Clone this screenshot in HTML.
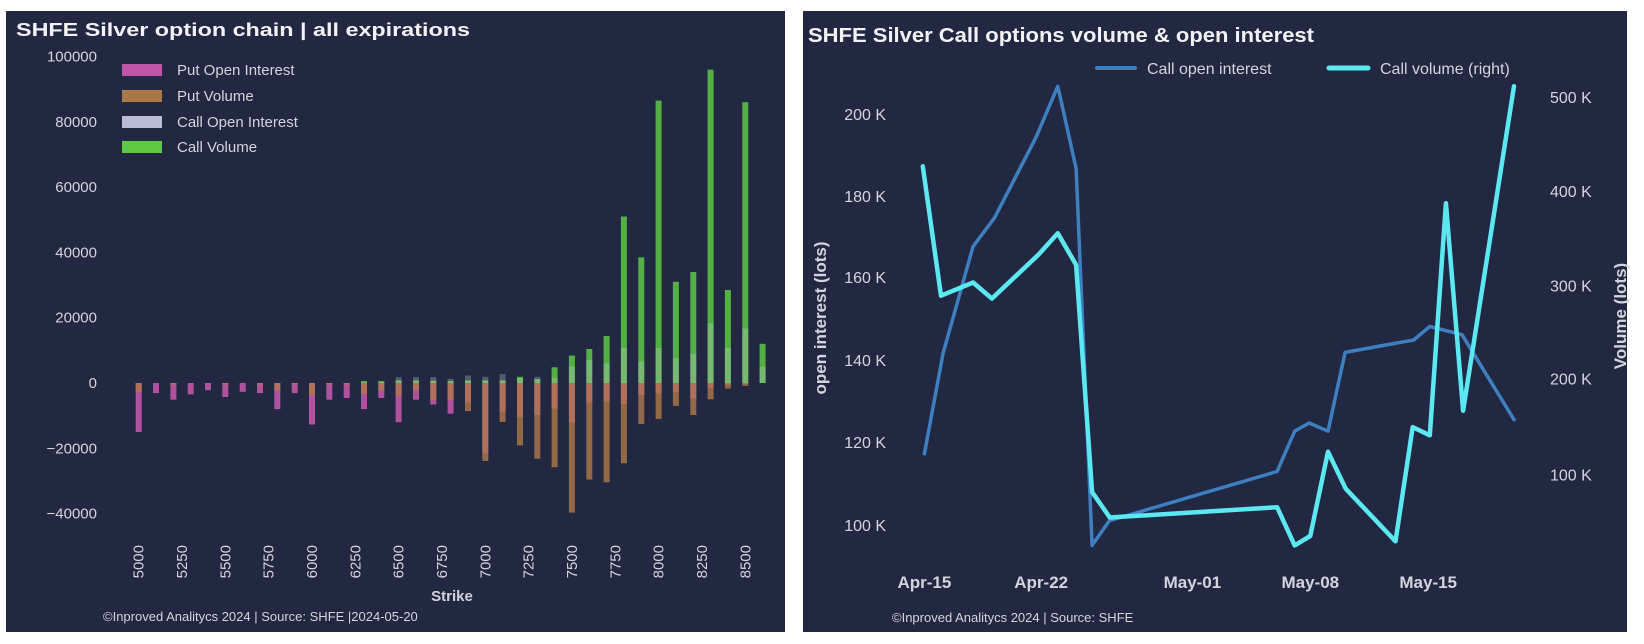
<!DOCTYPE html>
<html><head><meta charset="utf-8"><style>
html,body{margin:0;padding:0;background:#fff;}
svg{display:block;}
text{font-family:"Liberation Sans",sans-serif;}
</style></head><body>
<svg id="s" width="1644" height="644" xmlns="http://www.w3.org/2000/svg">
<rect x="0" y="0" width="1644" height="644" fill="#ffffff"/>
<rect x="6" y="11" width="779" height="621" fill="#222842"/>
<rect x="803" y="11" width="824" height="621" fill="#222842"/>
<text x="16" y="36" font-size="18" font-weight="bold" fill="#f2f2f4" textLength="454" lengthAdjust="spacingAndGlyphs">SHFE Silver option chain | all expirations</text>
<g id="lb"></g>
<g font-size="15" fill="#d4d4dc">
<rect x="122" y="64" width="40" height="12" fill="#c055a8"/><text x="177" y="75">Put Open Interest</text>
<rect x="122" y="90" width="40" height="12" fill="#a87848"/><text x="177" y="101">Put Volume</text>
<rect x="122" y="116" width="40" height="12" fill="#b8bcd4"/><text x="177" y="127">Call Open Interest</text>
<rect x="122" y="141" width="40" height="12" fill="#5cc844"/><text x="177" y="152">Call Volume</text>
</g>
<text x="452" y="601" font-size="15" font-weight="bold" fill="#d4d4dc" text-anchor="middle">Strike</text>
<text x="103" y="621" font-size="13" fill="#d4d4dc">©Inproved Analitycs 2024 | Source: SHFE |2024-05-20</text>

<text x="808" y="42" font-size="20" font-weight="bold" fill="#f2f2f4" textLength="506" lengthAdjust="spacingAndGlyphs">SHFE Silver Call options volume &amp; open interest</text>
<g id="rb"></g>
<line x1="1097" y1="68" x2="1135" y2="68" stroke="#3d7fc0" stroke-width="4" stroke-linecap="round"/>
<text x="1147" y="74" font-size="16" fill="#d4d4dc">Call open interest</text>
<line x1="1329" y1="68" x2="1368" y2="68" stroke="#5ce8f0" stroke-width="5" stroke-linecap="round"/>
<text x="1380" y="74" font-size="16" fill="#d4d4dc">Call volume (right)</text>
<text x="892" y="622" font-size="13" fill="#d4d4dc">©Inproved Analitycs 2024 | Source: SHFE</text>
<text transform="translate(826,318) rotate(-90)" font-size="17" font-weight="bold" fill="#d4d4dc" text-anchor="middle">open interest (lots)</text>
<text transform="translate(1626,316) rotate(-90)" font-size="17" font-weight="bold" fill="#d4d4dc" text-anchor="middle">Volume (lots)</text>
</svg>
<script>
var NS="http://www.w3.org/2000/svg";
function el(p,t,a,txt){var e=document.createElementNS(NS,t);for(var k in a)e.setAttribute(k,a[k]);if(txt!==undefined)e.textContent=txt;p.appendChild(e);return e;}
var lb=document.getElementById('lb');
var Z=383,S=65.3/20000;
[100000,80000,60000,40000,20000,0,-20000,-40000].forEach(function(v){
 el(lb,'text',{x:97,y:(Z-v*S+5).toFixed(1),'font-size':15,fill:'#d4d4dc','text-anchor':'end'},String(v).replace('-','\u2212'));
});
var pOI=[-15000,-3100,-5100,-3500,-2200,-4300,-2700,-3100,-8000,-3100,-12700,-5100,-4600,-8000,-4600,-12000,-5100,-6600,-9400,-6000,-21600,-8800,-10500,-9800,-7800,-12100,-6000,-5700,-6400,-3700,-3200,-2700,-4700,-1500,-500,-300,0];
var pV=[-2700,0,-500,0,0,-500,0,-500,-2300,-500,-3800,-500,-500,-3300,-2300,-4100,-2300,-5300,-5100,-8600,-23900,-11900,-19100,-23200,-25800,-39700,-29600,-30400,-24600,-12600,-11000,-7000,-9800,-5000,-1700,-900,0];
var cOI=[0,0,0,0,0,0,0,0,0,0,0,0,0,200,300,1800,1800,1800,1300,2300,1900,2800,1500,1900,1500,5000,7000,6000,10700,6600,10700,7600,8900,18300,10700,16700,5000];
var cV=[0,0,0,0,0,0,0,0,0,0,0,0,0,600,600,800,800,700,600,800,800,800,1900,1200,4800,8400,10400,14400,51000,38500,86500,31000,34000,96000,28500,86000,12000];
function bar(x,v,c,o){if(!v)return;var y1=Z,y2=Z-v*S;el(lb,'rect',{x:(x-3).toFixed(1),y:Math.min(y1,y2).toFixed(1),width:6,height:Math.abs(y2-y1).toFixed(1),fill:c,'fill-opacity':o});}
for(var i=0;i<37;i++){
 var x=138.7+i*17.33;
 bar(x,pOI[i],'#c055a8',0.9);
 bar(x,pV[i],'#b07848',0.8);
 bar(x,cV[i],'#5cc844',0.85);
 bar(x,cOI[i],'#c8d0dc',0.3);
}
for(var s=5000;s<=8500;s+=250){var x=138.7+(s-5000)*0.1733;
 el(lb,'text',{transform:'translate('+(x+5).toFixed(1)+',545) rotate(-90)','font-size':15,fill:'#d4d4dc','text-anchor':'end'},String(s));}
var rb=document.getElementById('rb');
[[200,114],[180,196],[160,277],[140,360],[120,442],[100,525]].forEach(function(a){
 el(rb,'text',{x:886,y:a[1]+6,'font-size':16,fill:'#d4d4dc','text-anchor':'end'},a[0]+' K');});
[[500,97],[400,191],[300,285.4],[200,378.6],[100,474.3]].forEach(function(a){
 el(rb,'text',{x:1550,y:a[1]+6,'font-size':16,fill:'#d4d4dc'},a[0]+' K');});
[['Apr-15',227],['Apr-22',445],['May-01',727],['May-08',947],['May-15',1167]].forEach(function(a){
 el(rb,'text',{x:(802.7+a[1]*0.536).toFixed(1),y:588,'font-size':17,'font-weight':'bold',fill:'#d4d4dc','text-anchor':'middle'},a[0]);});
function pts(arr){return arr.map(function(p){return (802.7+p[0]*0.536).toFixed(1)+','+(p[1]/2.435).toFixed(1);}).join(' ');}
var oi=[[227,1105],[262,860],[318,600],[358,530],[435,335],[476,210],[510,410],[540,1328],[572,1268],[885,1148],[918,1050],[945,1030],[980,1050],[1012,858],[1140,828],[1170,795],[1230,815],[1327,1022]];
var vol=[[224,405],[258,720],[318,688],[353,727],[440,620],[476,568],[510,645],[540,1198],[573,1260],[885,1235],[918,1328],[947,1305],[980,1100],[1013,1190],[1106,1318],[1138,1040],[1170,1060],[1200,495],[1232,1000],[1327,210]];
el(rb,'polyline',{points:pts(oi),fill:'none',stroke:'#3d7fc0','stroke-width':3.5,'stroke-linejoin':'round','stroke-linecap':'round'});
el(rb,'polyline',{points:pts(vol),fill:'none',stroke:'#5ce8f0','stroke-width':4.5,'stroke-linejoin':'round','stroke-linecap':'round'});
</script>
</body></html>
